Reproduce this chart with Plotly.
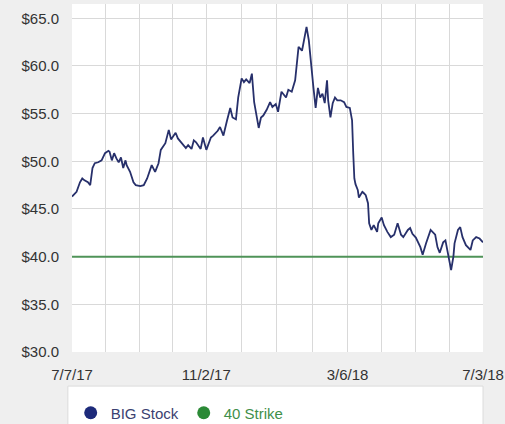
import pandas as pd
import plotly.graph_objects as go

# BIG daily close (USD), Jul 2017 - Jul 2018
dates = [
    "2017-07-07", "2017-07-09", "2017-07-11", "2017-07-14", "2017-07-16", "2017-07-18",
    "2017-07-21", "2017-07-23", "2017-07-25", "2017-07-27", "2017-07-30", "2017-08-02",
    "2017-08-03", "2017-08-05", "2017-08-08", "2017-08-09", "2017-08-11", "2017-08-13",
    "2017-08-15", "2017-08-17", "2017-08-19", "2017-08-21", "2017-08-23", "2017-08-24",
    "2017-08-27", "2017-08-30", "2017-09-01", "2017-09-05", "2017-09-08", "2017-09-11",
    "2017-09-15", "2017-09-18", "2017-09-21", "2017-09-23", "2017-09-27", "2017-09-30",
    "2017-10-02", "2017-10-06", "2017-10-08", "2017-10-11", "2017-10-15", "2017-10-17",
    "2017-10-20", "2017-10-22", "2017-10-24", "2017-10-28", "2017-10-30", "2017-11-02",
    "2017-11-06", "2017-11-08", "2017-11-12", "2017-11-14", "2017-11-17", "2017-11-20",
    "2017-11-23", "2017-11-25", "2017-11-28", "2017-11-30", "2017-12-03", "2017-12-05",
    "2017-12-07", "2017-12-10", "2017-12-12", "2017-12-14", "2017-12-16", "2017-12-18",
    "2017-12-20", "2017-12-22", "2017-12-25", "2017-12-28", "2017-12-30", "2018-01-02",
    "2018-01-04", "2018-01-07", "2018-01-11", "2018-01-13", "2018-01-16", "2018-01-19",
    "2018-01-22", "2018-01-25", "2018-01-26", "2018-01-29", "2018-01-31", "2018-02-02",
    "2018-02-04", "2018-02-06", "2018-02-08", "2018-02-10", "2018-02-12", "2018-02-14",
    "2018-02-16", "2018-02-17", "2018-02-19", "2018-02-21", "2018-02-23", "2018-02-25",
    "2018-02-28", "2018-03-03", "2018-03-05", "2018-03-08", "2018-03-10", "2018-03-11",
    "2018-03-12", "2018-03-13", "2018-03-15", "2018-03-16", "2018-03-19", "2018-03-20",
    "2018-03-22", "2018-03-24", "2018-03-25", "2018-03-27", "2018-03-29", "2018-04-01",
    "2018-04-02", "2018-04-05", "2018-04-07", "2018-04-10", "2018-04-13", "2018-04-16",
    "2018-04-19", "2018-04-22", "2018-04-24", "2018-04-28", "2018-04-30", "2018-05-02",
    "2018-05-05", "2018-05-09", "2018-05-11", "2018-05-14", "2018-05-18", "2018-05-22",
    "2018-05-24", "2018-05-26", "2018-05-29", "2018-05-31", "2018-06-02", "2018-06-04",
    "2018-06-05", "2018-06-07", "2018-06-08", "2018-06-11", "2018-06-13", "2018-06-15",
    "2018-06-18", "2018-06-22", "2018-06-24", "2018-06-27", "2018-06-30", "2018-07-03",
]
stock_price = [
    46.3, 46.6, 46.8, 47.8, 48.2, 48.0,
    47.8, 47.5, 49.3, 49.8, 49.9, 50.1,
    50.4, 50.85, 51.1, 51.0, 50.1, 50.85,
    50.3, 49.9, 50.4, 49.3, 50.1, 49.6,
    48.9, 47.8, 47.5, 47.4, 47.5, 48.2,
    49.6, 48.9, 49.8, 51.2, 51.9, 53.3,
    52.3, 53.0, 52.4, 52.0, 51.4, 51.7,
    51.3, 52.2, 52.0, 51.3, 52.5, 51.2,
    52.5, 52.7, 53.2, 53.6, 52.7, 54.2,
    55.6, 54.6, 54.4, 56.7, 58.7, 58.3,
    58.6, 58.2, 59.2, 56.2, 55.0, 53.5,
    54.6, 54.8, 55.4, 56.2, 55.7, 56.0,
    55.2, 57.3, 56.7, 57.5, 57.3, 58.5,
    62.0, 61.6, 62.2, 64.1, 62.7, 59.9,
    57.8, 55.6, 57.7, 56.7, 57.1, 56.1,
    58.5, 56.4, 54.6, 56.1, 56.7, 56.4,
    56.4, 56.2, 55.7, 55.6, 54.3, 50.9,
    48.2, 47.6, 47.0, 46.2, 46.8, 46.7,
    46.45, 45.6, 43.5, 42.8, 43.3, 42.6,
    43.5, 44.1, 43.3, 42.6, 42.05, 42.3,
    43.5, 42.3, 42.05, 42.8, 43.0, 42.4,
    42.0, 41.0, 40.2, 41.4, 42.8, 42.3,
    41.0, 40.4, 41.5, 41.7, 40.4, 39.1,
    38.6, 40.0, 41.4, 42.8, 43.1, 42.05,
    41.2, 40.7, 41.7, 42.05, 41.9, 41.5,
]
strike_dates = ["2017-07-07", "2018-07-03"]
strike_price = [40, 40]

label_dates = ["2017-07-07", "2017-11-02", "2018-03-06", "2018-07-03"]
label_text = ["7/7/17", "11/2/17", "3/6/18", "7/3/18"]
y_ticks = [30, 35, 40, 45, 50, 55, 60, 65]
y_tick_text = ["$30.0", "$35.0", "$40.0", "$45.0", "$50.0", "$55.0", "$60.0", "$65.0"]

STOCK_COLOR = "#27306b"
STRIKE_COLOR = "#4f9358"
LEGEND_STOCK = "#1d2a7a"
LEGEND_STRIKE = "#2b8a36"

# Gridlines: labelled dates plus three evenly spaced lines between each pair
grid_vals, grid_text = [], []
stamps = pd.to_datetime(label_dates)
for i in range(len(stamps) - 1):
    a, b = stamps[i], stamps[i + 1]
    for k in range(4):
        grid_vals.append(a + (b - a) * k / 4)
        grid_text.append(label_text[i] if k == 0 else "")
grid_vals.append(stamps[-1])
grid_text.append(label_text[-1])

fig = go.Figure()
fig.add_trace(go.Scatter(
    x=strike_dates, y=strike_price, mode="lines",
    line=dict(color=STRIKE_COLOR, width=2), showlegend=False,
))
fig.add_trace(go.Scatter(
    x=dates, y=stock_price, mode="lines",
    line=dict(color=STOCK_COLOR, width=1.8), showlegend=False,
))
# legend entries shown as round dots
fig.add_trace(go.Scatter(
    x=[None], y=[None], mode="markers",
    marker=dict(color=LEGEND_STOCK, size=13),
    name="<span style='color:#3b4170'>BIG Stock</span>",
))
fig.add_trace(go.Scatter(
    x=[None], y=[None], mode="markers",
    marker=dict(color=LEGEND_STRIKE, size=13),
    name="<span style='color:#3f8f4a'>40 Strike</span>",
))

fig.update_layout(
    width=505, height=424,
    margin=dict(l=72, r=22, t=4, b=72, autoexpand=False),
    paper_bgcolor="#efefef",
    plot_bgcolor="#ffffff",
    font=dict(family="Liberation Sans, Arial, sans-serif", size=15, color="#333333"),
    showlegend=True,
    legend=dict(
        orientation="h", xref="container", yref="container",
        x=0.14, xanchor="left", y=0.026, yanchor="middle",
        bgcolor="rgba(0,0,0,0)", font=dict(size=15), itemwidth=30,
        tracegroupgap=0,
    ),
    shapes=[dict(
        type="rect", xref="paper", yref="paper",
        x0=-0.01, x1=1.0, y0=-0.098, y1=-0.3,
        fillcolor="#ffffff", line=dict(color="#dcdcdc", width=1), layer="below",
    )],
)
fig.update_xaxes(
    type="date", range=["2017-07-07", "2018-07-03"],
    tickmode="array", tickvals=grid_vals, ticktext=grid_text,
    showgrid=True, gridcolor="#d9d9d9", gridwidth=1,
    zeroline=False, showline=False, ticks="", ticklabelstandoff=12,
    tickfont=dict(color="#333333", size=15),
)
fig.update_yaxes(
    range=[30, 66.5], tickmode="array", tickvals=y_ticks, ticktext=y_tick_text,
    showgrid=True, gridcolor="#d9d9d9", gridwidth=1,
    zeroline=False, showline=False, ticks="", ticklabelstandoff=12,
    tickfont=dict(color="#333333", size=15),
)

fig.write_html("out.html")
